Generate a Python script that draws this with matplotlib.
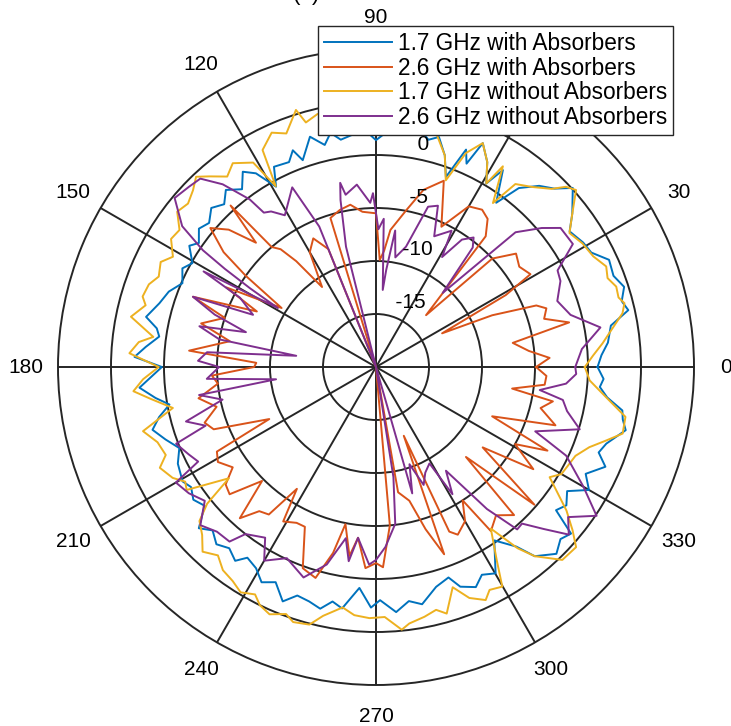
import numpy as np
import matplotlib
matplotlib.use("Agg")
import matplotlib.pyplot as plt

plt.rcParams['font.family'] = ['Liberation Sans', 'DejaVu Sans']

# ---------------- data (dB) ----------------
blue_deg = [0, 3, 6, 10, 12.7, 15, 17.9, 21, 24.7, 28, 31, 35, 38, 42.3, 45,
            48, 51.4, 53.8, 57.2, 59, 61.5, 64.5, 66, 67.5, 69.8, 72, 74.7,
            77, 80, 84, 88, 90, 93, 96, 98.8, 101, 103, 106, 109.5, 111, 113,
            117, 119, 121.8, 124.3, 127, 130.3, 133, 136, 139.2, 142, 145,
            147, 150.5, 153, 156.6, 160, 163.6, 167.7, 170, 172, 175, 177.6,
            180, 185, 188, 190.3, 193, 195.7, 199, 202.4, 206, 210.6, 213,
            216, 219, 222.3, 225, 228, 231, 234, 236, 239.2, 242, 245, 248.3,
            251, 254.1, 257, 259.5, 262, 265.7, 268.8, 271, 274.7, 278, 281,
            285.3, 289, 291, 294.4, 297, 300.1, 304.3, 308, 310, 314, 317,
            319.5, 321.5, 324, 327, 330, 333, 336.5, 339, 341.6, 345.8, 348,
            350, 352.5, 354.9, 357]
blue_db = [0.9, 1.3, 2.0, 2.5, 4.4, 4.0, 4.6, 4.0, 4.2, 3.0, 2.8, 2.3, 3.5,
           5.1, 3.8, 3.0, 1.6, -0.8, 2.1, 0.2, 2.0, 3.4, 1.0, 2.2, -0.9, 1.0,
           2.5, 2.0, 3.0, 2.5, 2.0, 1.4, 2.5, 2.0, 1.7, 2.5, 1.5, 2.6, 0.7,
           1.9, 1.0, 1.2, -0.55, 1.5, 2.3, 1.0, 1.9, 1.0, 1.6, 0.8, 1.2, 0.4,
           1.0, -0.1, 0.5, -0.1, 0.8, 1.3, 2.2, 1.0, 0.65, 1.8, 2.8, 0.2,
           2.4, 1.0, -0.2, 1.0, 1.9, 1.0, 0.07, 0.8, 1.2, 0.8, 1.3, 0.8, 2.6,
           1.8, 2.5, 2.0, 2.6, 1.7, 2.1, 3.0, 2.4, 3.8, 2.8, 3.0, 3.4, 2.5,
           3.0, 0.9, 2.7, 2.0, 3.2, 2.3, 2.8, 1.5, 1.0, 2.2, 2.8, 2.0, 2.5,
           -0.2, 1.5, 3.3, 4.5, 3.8, 4.2, 1.7, 2.2, 1.5, 3.2, 2.2, 3.6, 2.5,
           2.9, 4.3, 3.8, 3.6, 2.0, 1.2, 1.5]

yellow_deg = [0, 3, 6, 9, 12.3, 14.4, 16, 18.5, 21, 23.6, 27, 30.9, 34.7, 38,
              41.5, 43.5, 45.4, 49, 52.7, 54.5, 57.7, 59, 61.5, 64.5, 67.2,
              69.5, 72, 75.6, 80, 85, 90, 95, 100, 103, 106, 107.3, 111, 114,
              117.6, 119, 121, 125.1, 128, 131.2, 133.4, 136, 139, 142, 145.1,
              148, 151.5, 154, 157.4, 160, 163.2, 165, 168.4, 172.3, 174,
              176.8, 180, 183, 185.7, 188, 191.4, 195.4, 199, 202.7, 205,
              208.6, 211, 213, 217.1, 219, 221.1, 224, 226.8, 230, 233, 236.2,
              239, 242, 244, 246.7, 250, 252, 255.5, 258, 262.1, 265, 268.5,
              272, 275.6, 277.4, 281, 283.9, 286, 289.2, 292, 295.2, 297,
              299.9, 302, 305.4, 308, 310, 314, 318, 320.3, 323, 327.6, 330,
              333.4, 336, 339.4, 342.3, 344.9, 348.7, 351.9, 354, 356.4]
yellow_db = [-0.3, 0.5, 1.5, 2.5, 3.8, 4.2, 3.8, 3.9, 3.4, 3.7, 3.0, 2.7, 2.2,
             3.5, 5.2, 4.7, 3.6, 2.5, 1.7, -1.0, 2.4, 0.2, 2.0, 3.4, 1.9,
             -1.2, 1.0, 2.8, 3.5, 3.0, 3.0, 3.5, 4.0, 4.5, 4.0, 5.4, 3.6, 4.2,
             3.1, -0.5, 2.5, 3.5, 2.8, 3.9, 4.7, 4.0, 3.5, 3.8, 2.6, 2.8, 1.8,
             2.6, 2.2, 2.8, 3.0, 2.5, 3.6, 1.2, 2.5, 3.3, 0.5, 2.0, 3.0, 1.5,
             -0.45, 2.8, 1.8, 1.5, 2.5, 1.85, 1.0, 1.3, -2.6, 0.5, 2.1, 2.8,
             3.9, 3.2, 4.0, 4.3, 4.8, 4.3, 5.0, 5.4, 4.8, 5.3, 5.1, 4.0, 2.9,
             3.5, 3.7, 3.6, 4.9, 4.4, 4.0, 3.6, 4.2, 2.0, 3.5, 4.3, 3.6, 3.9,
             1.5, -1.3, 1.7, 3.3, 5.3, 5.4, 4.1, 2.5, -0.6, 0.2, 0.4, 0.6,
             1.5, 2.8, 4.1, 4.0, 2.2, 1.2, 0.2]

orange_deg = [0, 3, 6, 10, 13, 16, 19, 21, 24, 27, 29, 31, 35, 39, 43, 46, 50,
              53, 56, 60, 65, 70, 75, 79, 84, 86, 88, 90, 95, 99, 103, 107,
              109, 112, 116, 120, 124, 127, 129, 131, 132, 134, 137, 140,
              143, 145, 148, 152, 155, 159, 162, 166, 170, 175, 178, 180,
              183, 186, 190, 194, 198, 201, 206, 208, 211, 215, 218, 221,
              225, 228, 231, 234, 237, 239, 243, 246, 250, 254, 257, 259,
              262, 264, 267, 270, 272, 275, 277, 280, 284, 287, 290, 292,
              294, 296, 300, 303, 305, 309, 313, 315, 319, 323, 327, 331,
              334, 337, 342, 346, 349, 351, 354, 357]
orange_db = [-4.9, -3.6, -5.5, -6.9, -1.3, -3.5, -3.0, -3.8, -8.0, -13.0,
             -6.0, -3.0, -3.5, -3.0, -5.0, -13.2, -3.9, -2.5, -2.1, -2.5,
             -5.4, -1.3, -2.7, -4.9, -7.0, -9.0, -9.9, -5.5, -5.3, -4.5,
             -4.8, -5.3, -20.0, -8.0, -6.5, -7.5, -10.9, -7.5, -5.7, -5.0,
             0.5, -3.7, -1.0, 0.4, -2.0, -5.0, -9.5, -4.0, -7.6, -1.5,
             -5.0, -3.0, -6.0, -2.3, -8.7, -8.5, -4.5, -5.0, -3.0, -4.5,
             -3.0, -3.6, -8.8, -3.0, -2.6, -3.5, -2.0, -1.7, -4.8, -0.8,
             -2.5, -2.8, -6.3, -3.0, -3.5, -3.5, 0.2, 0.7, -2.0, -4.9,
             -2.0, -3.8, -1.0, -1.5, -1.1, -5.0, -20.0, -8.0, -7.0, -4.0,
             -1.2, -13.0, -3.0, -2.4, -3.2, -5.0, -1.1, -2.0, -0.9, -8.0,
             -0.2, -7.4, -2.3, -5.0, -2.0, -8.1, -2.2, -4.0, -3.0, -7.0,
             -4.0, -3.9]

purple_deg = [0, 5, 10, 15, 20, 25, 28, 32, 37, 40, 44, 48, 51, 53, 56, 59,
              61, 66, 69, 72, 76, 80, 82, 84, 85, 87, 89, 91, 92, 96, 100,
              101, 102, 104, 106, 112, 115, 121, 124, 126, 127, 130, 133,
              136, 140, 144, 146, 147, 148, 149, 151, 153, 157, 159, 162,
              165, 167, 170, 172, 175, 178, 180, 184, 187, 189, 192, 196,
              199, 201, 205, 208, 210, 214, 218, 222, 226, 230, 232, 237,
              240, 245, 251, 256, 260, 262, 264, 268, 270, 273, 277, 279,
              282, 286, 289, 292, 295, 299, 301, 304, 308, 311, 313, 316,
              319, 322, 326, 330, 335, 338, 343, 347, 350, 352, 355, 358]
purple_db = [-1.2, -0.5, 1.5, -1.0, -1.8, -0.8, -0.6, 1.9, 1.8, 0.4,
             -1.7, -10.6, -5.5, -4.7, -5.5, -7.9, -5.3, -6.5, -3.7, -4.1,
             -8.3, -9.5, -7.0, -10.8, -12.7, -6.0, -7.0, -3.6, -4.5, -2.7,
             -3.5, -2.3, -3.9, -8.3, -20.0, -5.7, -1.3, -3.3, -2.3, -2.0,
             -0.2, 2.5, 4.3, 4.5, 4.8, 2.6, -0.3, -3.0, -6.0, -9.2,
             -1.4, -5.6, -7.4, -1.5, -4.0, -7.3, -2.9, -5.0, -12.4, -4.0,
             -3.2, -5.2, -4.0, -10.5, -3.1, -5.2, -1.35, -3.0, 0.2, -0.5,
             -1.0, 1.8, 1.3, 0.5, 2.3, 1.6, 1.5, 0.0, -0.8, 1.1,
             -0.1, 1.0, -0.8, -3.6, -1.5, -3.8, -1.35, -1.8, -3.0, -5.1,
             -9.5, -20.0, -7.6, -10.3, -8.0, -9.0, -9.6, -6.0, -8.2, -3.0,
             0.3, 0.2, 2.0, 4.1, 3.0, 5.1, 2.6, -0.2, -3.8, 0.1,
             -1.5, -2.1, -4.4, -2.0, -1.1]

series_labels = ['1.7 GHz with Absorbers', '2.6 GHz with Absorbers',
                 '1.7 GHz without Absorbers', '2.6 GHz without Absorbers']
series_colors = ['#0072BD', '#D95319', '#EDB120', '#7E2F8E']

angle_ticks = list(range(0, 360, 30))
rho_ticks = [-15, -10, -5, 0, 5, 10]
r_min, r_max = -20, 10

# ---------------- figure ----------------
fig = plt.figure(figsize=(7.31, 7.26), dpi=100)
ax = fig.add_axes([0.07934, 0.05647, 0.87004, 0.87603], projection='polar')
ax.set_rlim(r_min, r_max)
ax.set_theta_zero_location('E')
ax.set_theta_direction(1)

grid_col = '#262626'
ax.set_thetagrids(angle_ticks, labels=[''] * len(angle_ticks))
ax.set_rgrids(rho_ticks[:-1], labels=[''] * (len(rho_ticks) - 1))
ax.grid(True, color=grid_col, linewidth=1.4, linestyle='-')
ax.spines['polar'].set_color(grid_col)
ax.spines['polar'].set_linewidth(1.4)
ax.tick_params(length=0)


def closed(deg, vals):
    d = list(deg) + [deg[0] + 360]
    v = list(vals) + [vals[0]]
    return np.deg2rad(d), np.clip(v, r_min, r_max)


data = [(blue_deg, blue_db), (orange_deg, orange_db),
        (yellow_deg, yellow_db), (purple_deg, purple_db)]
handles = []
for (deg, vals), lab, col in zip(data, series_labels, series_colors):
    th, rr = closed(deg, vals)
    h, = ax.plot(th, rr, color=col, linewidth=1.4, label=lab)
    handles.append(h)

# angle labels
r_lab = r_min + 1.1 * (r_max - r_min)
for a in angle_ticks:
    ax.text(np.deg2rad(a), r_lab, str(a), ha='center', va='center',
            fontsize=15, color='black', clip_on=False)

# rho labels at 82 degrees
for rv in rho_ticks:
    ax.text(np.deg2rad(82), rv + 5 / 20, '  ' + str(rv), ha='left',
            va='bottom', fontsize=15, color='black', clip_on=False)

fig.legend(handles=handles, labels=series_labels, loc='upper right',
           bbox_to_anchor=(0.921, 0.964), fontsize=16.3, frameon=True,
           fancybox=False, framealpha=1, edgecolor=grid_col,
           borderaxespad=0, handlelength=3.0, handletextpad=0.28,
           labelspacing=0.08, borderpad=0.25)

fig.text(306 / 731, 0.9995, '(a)', ha='center', va='baseline', fontsize=16)

fig.savefig('out.png', dpi=100)
